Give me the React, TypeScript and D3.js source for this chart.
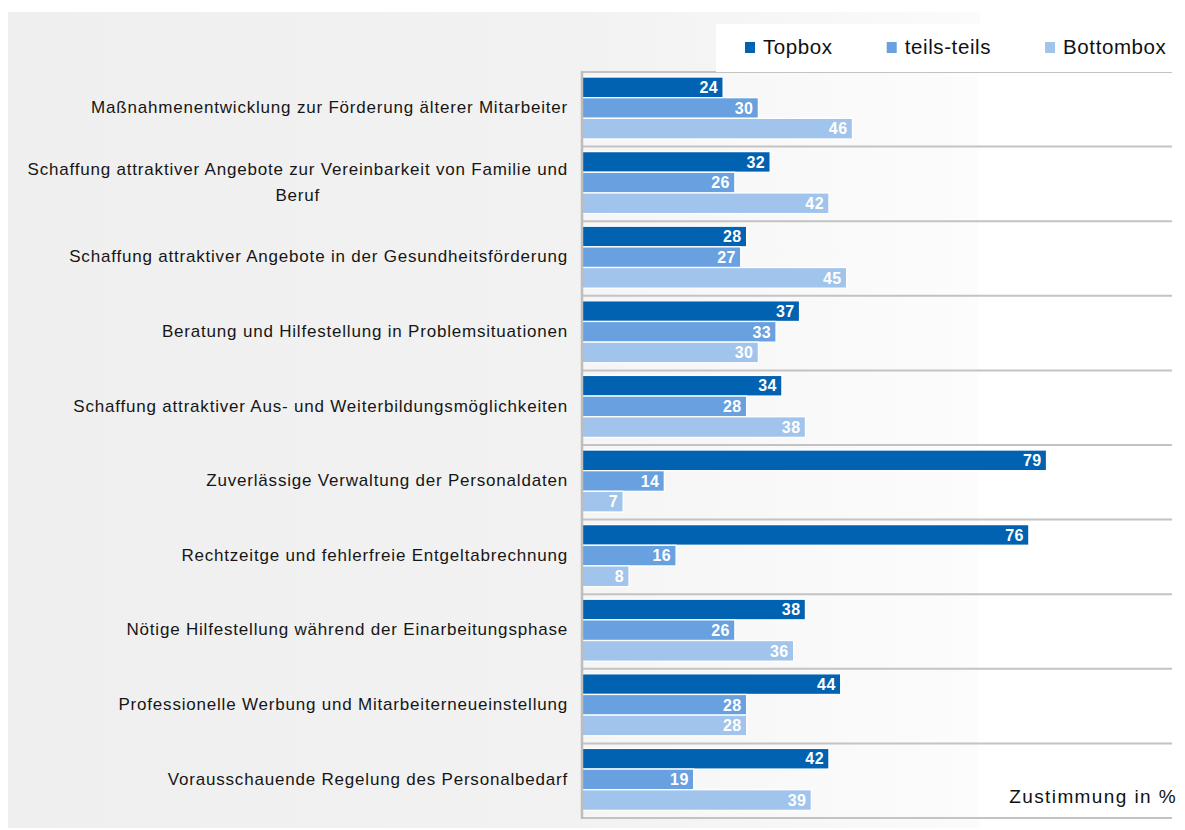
import { useEffect, useRef } from 'react'
import * as d3 from 'd3'

const categories = [
  ['Maßnahmenentwicklung zur Förderung älterer Mitarbeiter'],
  ['Schaffung attraktiver Angebote zur Vereinbarkeit von Familie und', 'Beruf'],
  ['Schaffung attraktiver Angebote in der Gesundheitsförderung'],
  ['Beratung und Hilfestellung in Problemsituationen'],
  ['Schaffung attraktiver Aus- und Weiterbildungsmöglichkeiten'],
  ['Zuverlässige Verwaltung der Personaldaten'],
  ['Rechtzeitge und fehlerfreie Entgeltabrechnung'],
  ['Nötige Hilfestellung während der Einarbeitungsphase'],
  ['Professionelle Werbung und Mitarbeiterneueinstellung'],
  ['Vorausschauende Regelung des Personalbedarf']
]

const topbox = [24, 32, 28, 37, 34, 79, 76, 38, 44, 42]
const teilsTeils = [30, 26, 27, 33, 28, 14, 16, 26, 28, 19]
const bottombox = [46, 42, 45, 30, 38, 7, 8, 36, 28, 39]

const seriesNames = ['Topbox', 'teils-teils', 'Bottombox']
const seriesColors = ['#0062b1', '#69a1e0', '#a0c4ec']
const axisTitle = 'Zustimmung in %'

const W = 1185
const H = 830
const FONT = '"Liberation Sans", Arial, Helvetica, sans-serif'

export default function App() {
  const svgRef = useRef<SVGSVGElement>(null)

  useEffect(() => {
    if (!svgRef.current) return
    const svg = d3.select(svgRef.current)
    svg.selectAll('*').remove()

    const plot = { left: 582, right: 1172, top: 72, bottom: 818 }

    // gradients
    const defs = svg.append('defs')
    const outerGrad = defs.append('linearGradient')
      .attr('id', 'outerGrad')
      .attr('gradientUnits', 'userSpaceOnUse')
      .attr('x1', 8).attr('x2', 980).attr('y1', 0).attr('y2', 0)
    outerGrad.append('stop').attr('offset', 0).attr('stop-color', '#efefef')
    outerGrad.append('stop').attr('offset', 0.6).attr('stop-color', '#f2f2f2')
    outerGrad.append('stop').attr('offset', 1).attr('stop-color', '#fbfbfb')

    const plotGrad = defs.append('linearGradient')
      .attr('id', 'plotGrad')
      .attr('gradientUnits', 'userSpaceOnUse')
      .attr('x1', plot.left).attr('x2', plot.right).attr('y1', 0).attr('y2', 0)
    plotGrad.append('stop').attr('offset', 0).attr('stop-color', '#f5f5f5')
    plotGrad.append('stop').attr('offset', 0.67).attr('stop-color', '#fcfcfc')
    plotGrad.append('stop').attr('offset', 0.675).attr('stop-color', '#ffffff')
    plotGrad.append('stop').attr('offset', 1).attr('stop-color', '#ffffff')

    svg.append('rect')
      .attr('x', 8).attr('y', 12).attr('width', 972).attr('height', 816)
      .attr('fill', 'url(#outerGrad)')

    svg.append('rect')
      .attr('x', plot.left).attr('y', plot.top)
      .attr('width', plot.right - plot.left).attr('height', plot.bottom - plot.top)
      .attr('fill', 'url(#plotGrad)')

    // scales
    const x = d3.scaleLinear().domain([0, 100]).range([plot.left, 1170])
    const y = d3.scaleBand<number>()
      .domain(d3.range(categories.length))
      .range([plot.top, plot.bottom])
    const inner = d3.scaleBand<string>()
      .domain(seriesNames)
      .range([5, 67])

    const seriesValues = [topbox, teilsTeils, bottombox]

    // separators
    const sepYs = d3.range(categories.length).map(i => y(i) as number).concat([plot.bottom])
    svg.append('g')
      .selectAll('line')
      .data(sepYs)
      .enter()
      .append('line')
      .attr('x1', plot.left).attr('x2', plot.right)
      .attr('y1', d => d).attr('y2', d => d)
      .attr('stroke', '#c3c3c3')
      .attr('stroke-width', 2)

    // bars
    const groups = svg.append('g')
      .selectAll('g')
      .data(categories.map((c, i) => i))
      .enter()
      .append('g')
      .attr('transform', i => `translate(0,${y(i)})`)

    seriesNames.forEach((s, si) => {
      groups.append('rect')
        .attr('x', x(0))
        .attr('y', inner(s) as number)
        .attr('width', i => x(seriesValues[si][i]) - x(0))
        .attr('height', inner.bandwidth())
        .attr('fill', seriesColors[si])
        .attr('stroke', '#ffffff')
        .attr('stroke-width', 1.3)

      groups.append('text')
        .attr('x', i => x(seriesValues[si][i]) - 5)
        .attr('y', (inner(s) as number) + inner.bandwidth() / 2)
        .attr('dy', '0.36em')
        .attr('text-anchor', 'end')
        .attr('fill', '#ffffff')
        .style('font-family', FONT)
        .style('font-size', '16px')
        .style('font-weight', 'bold')
        .style('letter-spacing', '0.4px')
        .text(i => seriesValues[si][i])
    })

    // left axis line
    svg.append('line')
      .attr('x1', plot.left).attr('x2', plot.left)
      .attr('y1', plot.top - 1).attr('y2', plot.bottom + 1)
      .attr('stroke', '#bdbdbd')
      .attr('stroke-width', 2.5)

    // category labels
    const labelRight = 568
    categories.forEach((lines, i) => {
      const cy = (y(i) as number) + y.bandwidth() / 2 - 2
      const lh = 26
      const texts = lines.map((line, li) =>
        svg.append('text')
          .attr('x', labelRight)
          .attr('y', cy + (li - (lines.length - 1) / 2) * lh)
          .attr('dy', '0.35em')
          .attr('text-anchor', 'end')
          .attr('fill', '#161616')
          .style('font-family', FONT)
          .style('font-size', '17px')
          .style('letter-spacing', '0.8px')
          .text(line)
      )
      if (lines.length > 1) {
        const widths = texts.map(t => (t.node() as SVGTextElement).getComputedTextLength())
        const maxW = d3.max(widths) as number
        const center = labelRight - maxW / 2
        texts.forEach(t => t.attr('text-anchor', 'middle').attr('x', center))
      }
    })

    // legend
    svg.append('rect')
      .attr('x', 716).attr('y', 24).attr('width', W - 716).attr('height', 48)
      .attr('fill', '#ffffff')

    let lx = 745
    seriesNames.forEach((s, si) => {
      svg.append('rect')
        .attr('x', lx).attr('y', 42).attr('width', 10).attr('height', 11)
        .attr('fill', seriesColors[si])
      const t = svg.append('text')
        .attr('x', lx + 18)
        .attr('y', 47)
        .attr('dy', '0.36em')
        .attr('fill', '#111111')
        .style('font-family', FONT)
        .style('font-size', '20.5px')
        .style('letter-spacing', '0.6px')
        .text(s)
      const w = (t.node() as SVGTextElement).getComputedTextLength()
      lx = lx + 18 + w + 54
    })

    // axis title
    svg.append('text')
      .attr('x', 1177)
      .attr('y', 803)
      .attr('text-anchor', 'end')
      .attr('fill', '#111111')
      .style('font-family', FONT)
      .style('font-size', '19px')
      .style('letter-spacing', '1.4px')
      .text(axisTitle)
  }, [])

  return (
    <svg
      ref={svgRef}
      width={W}
      height={H}
      style={{ position: 'absolute', left: 0, top: 0, display: 'block', background: '#ffffff' }}
    />
  )
}
